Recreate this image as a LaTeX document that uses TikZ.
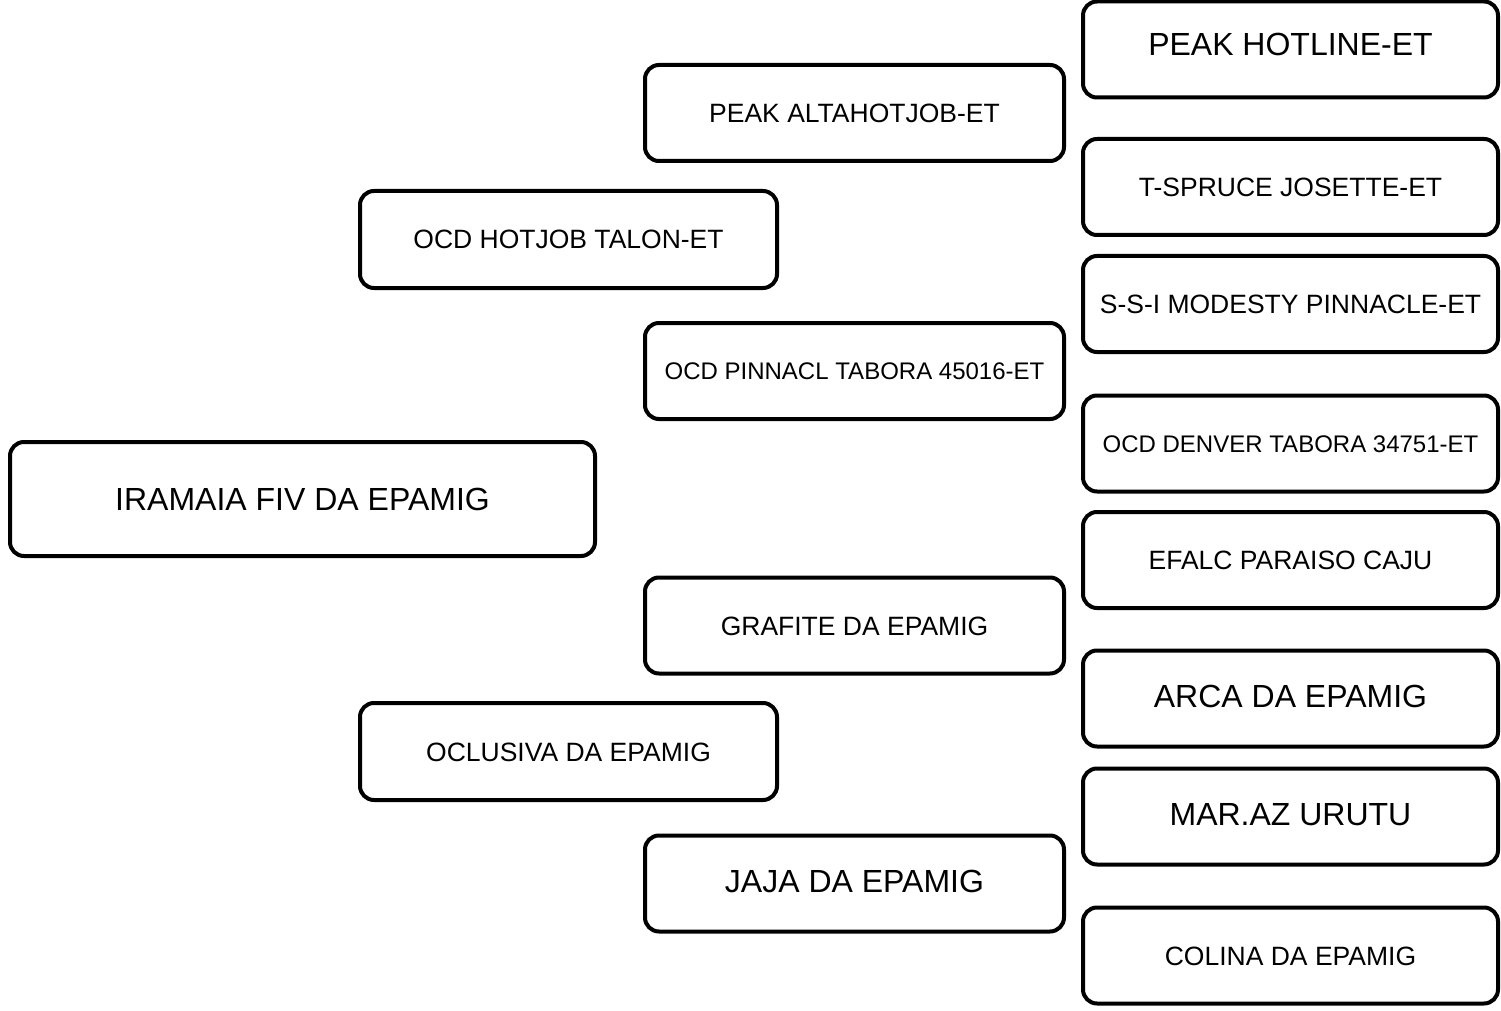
\documentclass[tikz,border=0pt]{standalone}
\usepackage{fontspec}
\setmainfont{Liberation Sans}
\usepackage{tikz}

\tikzset{
  horse/.style={draw=black, line width=2pt, rounded corners=7pt, fill=white,
    inner sep=0pt, text depth=0pt},
  bigname/.style={horse, font=\fontsize{16}{19}\selectfont, text height=11.5pt, text depth=2.5pt},
  midname/.style={horse, font=\fontsize{13.25}{16}\selectfont, text height=9.5pt},
  smallname/.style={horse, font=\fontsize{12}{14}\selectfont, text height=8.6pt},
  rootbox/.style={minimum width=292.5pt, minimum height=57pt},
  parentbox/.style={minimum width=208.5pt, minimum height=48.5pt},
  grandbox/.style={minimum width=209.5pt, minimum height=48pt},
  greatbox/.style={minimum width=207.5pt, minimum height=48pt}
}

\begin{document}
\begin{tikzpicture}[x=0.5pt, y=-0.5pt]
  \useasboundingbox (0,0) rectangle (1501,1011);

  % Tier
  \node[bigname, rootbox, text depth=0pt] (animal) at (302.5,499) {IRAMAIA FIV DA EPAMIG};

  % Eltern
  \node[midname, parentbox] (sire) at (568.5,239.5) {OCD HOTJOB TALON-ET};
  \node[midname, parentbox] (dam) at (568.5,751.5) {OCLUSIVA DA EPAMIG};

  % Grosseltern
  \node[midname, grandbox] (siresire) at (854.5,113) {PEAK ALTAHOTJOB-ET};
  \node[smallname, grandbox] (siredam) at (854.5,371) {OCD PINNACL TABORA 45016-ET};
  \node[midname, grandbox] (damsire) at (854.5,625.5) {GRAFITE DA EPAMIG};
  \node[bigname, grandbox] (damdam) at (854.5,883.5) {JAJA DA EPAMIG};

  % Urgrosseltern
  \node[bigname, greatbox, text depth=5pt] (ss1) at (1290.5,49.5) {PEAK HOTLINE-ET};
  \node[midname, greatbox] (ss2) at (1290.5,187) {T-SPRUCE JOSETTE-ET};
  \node[midname, greatbox] (sd1) at (1290.5,304) {S-S-I MODESTY PINNACLE-ET};
  \node[smallname, greatbox] (sd2) at (1290.5,443.5) {OCD DENVER TABORA 34751-ET};
  \node[midname, greatbox] (ds1) at (1290.5,560) {EFALC PARAISO CAJU};
  \node[bigname, greatbox] (ds2) at (1290.5,698.5) {ARCA DA EPAMIG};
  \node[bigname, greatbox] (dd1) at (1290.5,816.5) {MAR.AZ URUTU};
  \node[midname, greatbox] (dd2) at (1290.5,955.5) {COLINA DA EPAMIG};

\end{tikzpicture}
\end{document}
